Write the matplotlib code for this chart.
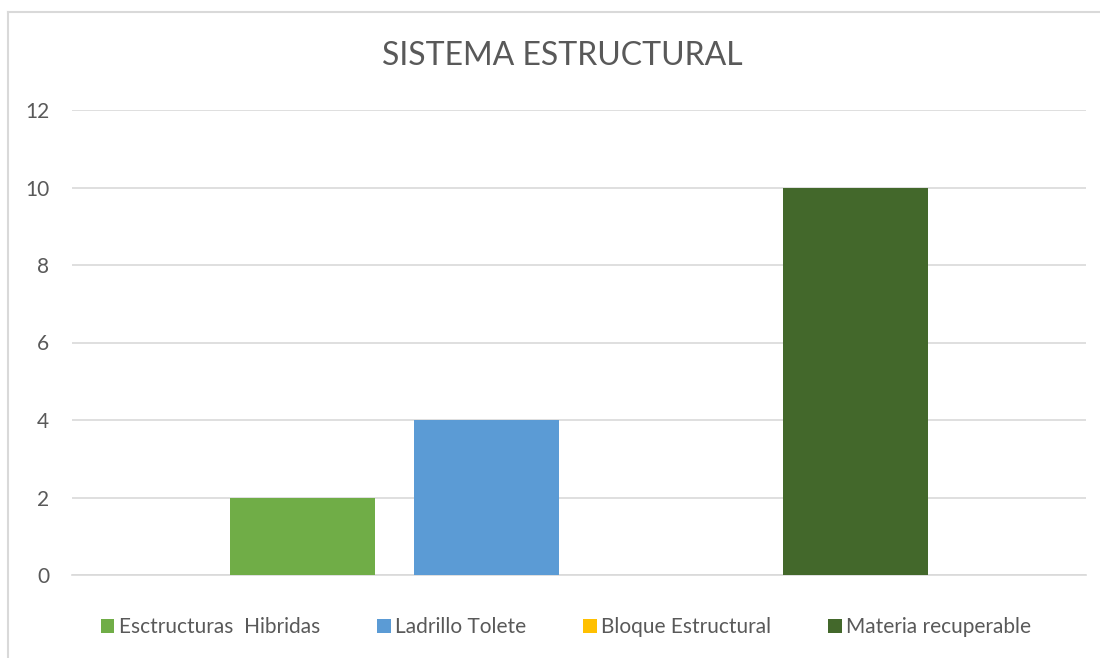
import matplotlib
matplotlib.use("Agg")
import matplotlib.pyplot as plt
from matplotlib.lines import Line2D
from matplotlib.patches import Patch

series = ["Esctructuras  Hibridas", "Ladrillo Tolete", "Bloque Estructural", "Materia recuperable"]
values = [2, 4, 0, 10]
colors = ["#70AD47", "#5B9BD5", "#FFC000", "#43682B"]
yticks = [0, 2, 4, 6, 8, 10, 12]
title = "SISTEMA ESTRUCTURAL"

plt.rcParams['font.family'] = ['Lato', 'DejaVu Sans']
fig = plt.figure(figsize=(11, 6.58), dpi=100)
bx, by = 7.5/1100, 1 - 11.5/658
fig.add_artist(Line2D([bx, bx], [0, by], transform=fig.transFigure, color="#D9D9D9", linewidth=1.5))
fig.add_artist(Line2D([bx, 1], [by, by], transform=fig.transFigure, color="#D9D9D9", linewidth=1.5))
ax = fig.add_axes([72/1100, 1 - 575/658, (1086 - 72)/1100, (575 - 110)/658])

w = 0.143
step = 0.182
for i, (s, v, c) in enumerate(zip(series, values, colors)):
    ax.bar((i - 1.5) * step, v, width=w, color=c, label=s, zorder=3)

ax.set_xlim(-0.5, 0.5)
ax.set_ylim(0, 12)
ax.set_yticks(yticks)
ax.set_xticks([])
ax.grid(axis='y', color="#D9D9D9", linewidth=1.2, zorder=0)
for sp in ["top", "right", "left"]:
    ax.spines[sp].set_visible(False)
ax.spines["bottom"].set_color("#D9D9D9")
ax.spines["bottom"].set_linewidth(1.2)
ax.tick_params(axis='y', length=0, labelsize=15, labelcolor="#595959", pad=16.5)

fig.text(562/1100, 1 - 56/658, title, ha='center', va='center', fontsize=23,
         color="#595959")

handles = [Patch(facecolor=c, label=s) for s, c in zip(series, colors)]
fig.legend(handles=handles, loc='center', bbox_to_anchor=(566/1100, 1 - 627/658), ncol=4,
           frameon=False, fontsize=15, labelcolor="#595959", handlelength=0.65, handleheight=0.65,
           handletextpad=0.2, columnspacing=2.75)

fig.savefig("out.png", dpi=100)
